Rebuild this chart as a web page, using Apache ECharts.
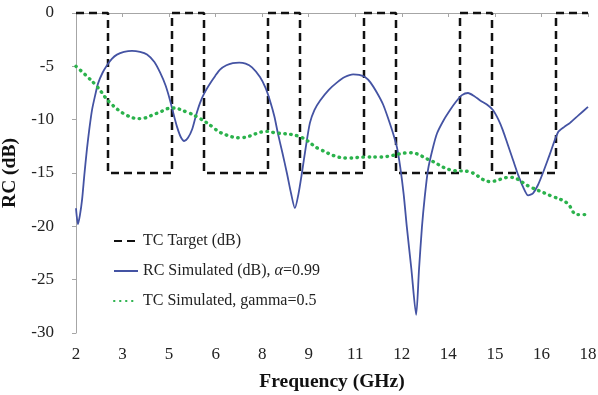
<!DOCTYPE html>
<html>
<head>
<meta charset="utf-8">
<script src="https://cdn.jsdelivr.net/npm/echarts@6/dist/echarts.min.js"></script>
<style>
  html, body { margin: 0; padding: 0; background: #fff; }
  #chart { width: 598px; height: 395px; }
</style>
</head>
<body>
<div id="chart"></div>
<script>
// Frequency tick labels shown along the bottom axis
const freqTickLabels = ['2', '3', '5', '6', '8', '9', '11', '12', '14', '15', '16', '18'];

// Target transmission coefficient (step mask), GHz / dB
const targetFreq = [2, 3, 3, 5, 5, 6, 6, 8, 8, 9, 9, 11, 11, 12, 12, 14, 14, 15, 15, 17, 17, 18];
const targetDb   = [0, 0, -15, -15, 0, 0, -15, -15, 0, 0, -15, -15, 0, 0, -15, -15, 0, 0, -15, -15, 0, 0];

// Simulated reflection coefficient, GHz / dB
const rcFreq = [2.0, 2.06, 2.12, 2.19, 2.26, 2.34, 2.42, 2.5, 2.6, 2.69, 2.83, 2.97, 3.12, 3.28, 3.5,
  3.75, 4.0, 4.22, 4.45, 4.63, 4.8, 4.94, 5.05, 5.16, 5.27, 5.38, 5.5, 5.63, 5.75, 5.88, 6.03, 6.19,
  6.35, 6.5, 6.7, 6.9, 7.1, 7.3, 7.5, 7.75, 7.92, 8.06, 8.2, 8.31, 8.45, 8.59, 8.72, 8.84, 8.95, 9.06,
  9.18, 9.31, 9.45, 9.63, 9.9, 10.16, 10.4, 10.66, 10.85, 11.03, 11.2, 11.41, 11.6, 11.78, 11.91,
  12.03, 12.13, 12.24, 12.34, 12.48, 12.63, 12.72, 12.81, 12.9, 13.0, 13.14, 13.28, 13.48, 13.69,
  13.88, 14.06, 14.25, 14.45, 14.63, 14.85, 15.03, 15.2, 15.34, 15.5, 15.66, 15.82, 15.97, 16.13,
  16.28, 16.44, 16.59, 16.8, 17.06, 17.25, 17.44, 17.7, 18.0];
const rcDb = [-18.3, -19.8, -19.0, -17.5, -15.2, -12.8, -10.8, -9.1, -7.7, -6.6, -5.6, -4.9, -4.3, -3.9, -3.65,
  -3.55, -3.65, -3.9, -4.6, -5.6, -6.8, -8.2, -9.5, -10.7, -11.6, -12.0, -11.7, -10.9, -9.6, -8.4, -7.4, -6.6,
  -5.9, -5.3, -4.9, -4.7, -4.65, -4.75, -5.1, -6.0, -7.0, -8.2, -9.7, -11.3, -13.1, -15.0, -16.9, -18.3, -17.0, -15.0,
  -12.6, -10.3, -9.1, -8.2, -7.2, -6.5, -6.0, -5.75, -5.8, -6.0, -6.5, -7.5, -8.6, -10.1, -11.3,
  -12.6, -14.4, -17.0, -20.1, -24.0, -28.3, -24.0, -20.1, -17.2, -14.7, -12.8, -11.3, -10.1, -9.1,
  -8.3, -7.7, -7.5, -7.8, -8.2, -8.6, -9.1, -10.0, -11.0, -12.4, -13.8, -15.2, -16.3, -17.1,
  -16.9, -16.1, -15.0, -13.3, -11.2, -10.7, -10.3, -9.6, -8.8];

// Simulated transmission coefficient, GHz / dB
const tcFreq = [2.0, 2.33, 2.66, 3.06, 3.59, 4.0, 4.53, 5.0, 5.47, 5.88, 6.28, 6.5, 7.13, 7.97, 8.16, 9.0,
  9.63, 10.47, 11.09, 11.5, 12.44, 13.06, 13.69, 14.31, 14.94, 15.56, 16.19, 16.81, 17.34, 17.66, 18.0];
const tcDb = [-5.0, -5.9, -6.9, -8.4, -9.6, -9.9, -9.4, -8.9, -9.3, -9.9, -10.7, -11.2, -11.7, -11.1, -11.2, -11.6,
  -12.8, -13.6, -13.5, -13.5, -13.1, -13.8, -14.7, -14.9, -15.8, -15.4, -16.3, -17.1, -17.8, -18.9, -18.9];

const pairs = (xs, ys) => xs.map((x, i) => [x, ys[i]]);
const serif = 'Liberation Serif, Times New Roman, serif';

const chart = echarts.init(document.getElementById('chart'), null, { renderer: 'canvas' });
chart.setOption({
  animation: false,
  backgroundColor: '#ffffff',
  grid: { left: 76, right: 10, top: 13, bottom: 62, containLabel: false, outerBoundsMode: 'none' },
  legend: {
    orient: 'vertical',
    left: 108,
    top: 228,
    itemWidth: 24,
    itemHeight: 12,
    itemGap: 14,
    itemStyle: { opacity: 0 },
    textStyle: {
      fontFamily: serif, fontSize: 16, color: '#222',
      rich: { i: { fontFamily: serif, fontSize: 16, fontStyle: 'italic', color: '#222' } }
    },
    formatter: name => name.replace('α', '{i|α}'),
    data: ['TC Target (dB)', 'RC Simulated (dB), α=0.99', 'TC Simulated, gamma=0.5']
  },
  xAxis: [
    {
      type: 'category',
      data: freqTickLabels,
      boundaryGap: false,
      name: 'Frequency (GHz)',
      nameLocation: 'middle',
      nameGap: 39,
      nameTextStyle: { fontFamily: serif, fontSize: 19.5, fontWeight: 'bold', color: '#111' },
      axisLine: { lineStyle: { color: '#a6a6a6', width: 1 } },
      axisTick: { show: true, alignWithLabel: true, length: 4, lineStyle: { color: '#a6a6a6' } },
      axisLabel: { fontFamily: serif, fontSize: 17, color: '#222', margin: 13, interval: 0 },
      splitLine: { show: false }
    },
    {
      type: 'value',
      min: 2,
      max: 18,
      show: false,
      splitLine: { show: false }
    }
  ],
  yAxis: {
    type: 'value',
    min: -30,
    max: 0,
    interval: 5,
    name: 'RC (dB)',
    nameLocation: 'middle',
    nameGap: 45,
    nameRotate: 90,
    nameTextStyle: { fontFamily: serif, fontSize: 19.5, fontWeight: 'bold', color: '#111' },
    axisLine: { show: true, lineStyle: { color: '#a6a6a6', width: 1 } },
    axisTick: { show: true, length: 4, lineStyle: { color: '#a6a6a6' } },
    axisLabel: { fontFamily: serif, fontSize: 17, color: '#222', margin: 22 },
    splitLine: { show: false }
  },
  series: [
    {
      name: 'TC Target (dB)',
      type: 'line',
      xAxisIndex: 1,
      data: pairs(targetFreq, targetDb),
      showSymbol: false,
      symbol: 'none',
      clip: false,
      lineStyle: { color: '#111', width: 2.5, type: [8, 5] },
      itemStyle: { color: '#111' },
      z: 3
    },
    {
      name: 'RC Simulated (dB), α=0.99',
      type: 'line',
      xAxisIndex: 1,
      data: pairs(rcFreq, rcDb),
      smooth: 0.25,
      showSymbol: false,
      symbol: 'none',
      lineStyle: { color: '#4453a3', width: 1.8 },
      itemStyle: { color: '#4453a3' },
      z: 4
    },
    {
      name: 'TC Simulated, gamma=0.5',
      type: 'line',
      xAxisIndex: 1,
      data: pairs(tcFreq, tcDb),
      smooth: 0.4,
      showSymbol: false,
      symbol: 'none',
      lineStyle: { color: '#2bb24c', width: 3.4, type: [0.5, 5.5], cap: 'round' },
      itemStyle: { color: '#2bb24c' },
      z: 5
    }
  ]
});
</script>
</body>
</html>
